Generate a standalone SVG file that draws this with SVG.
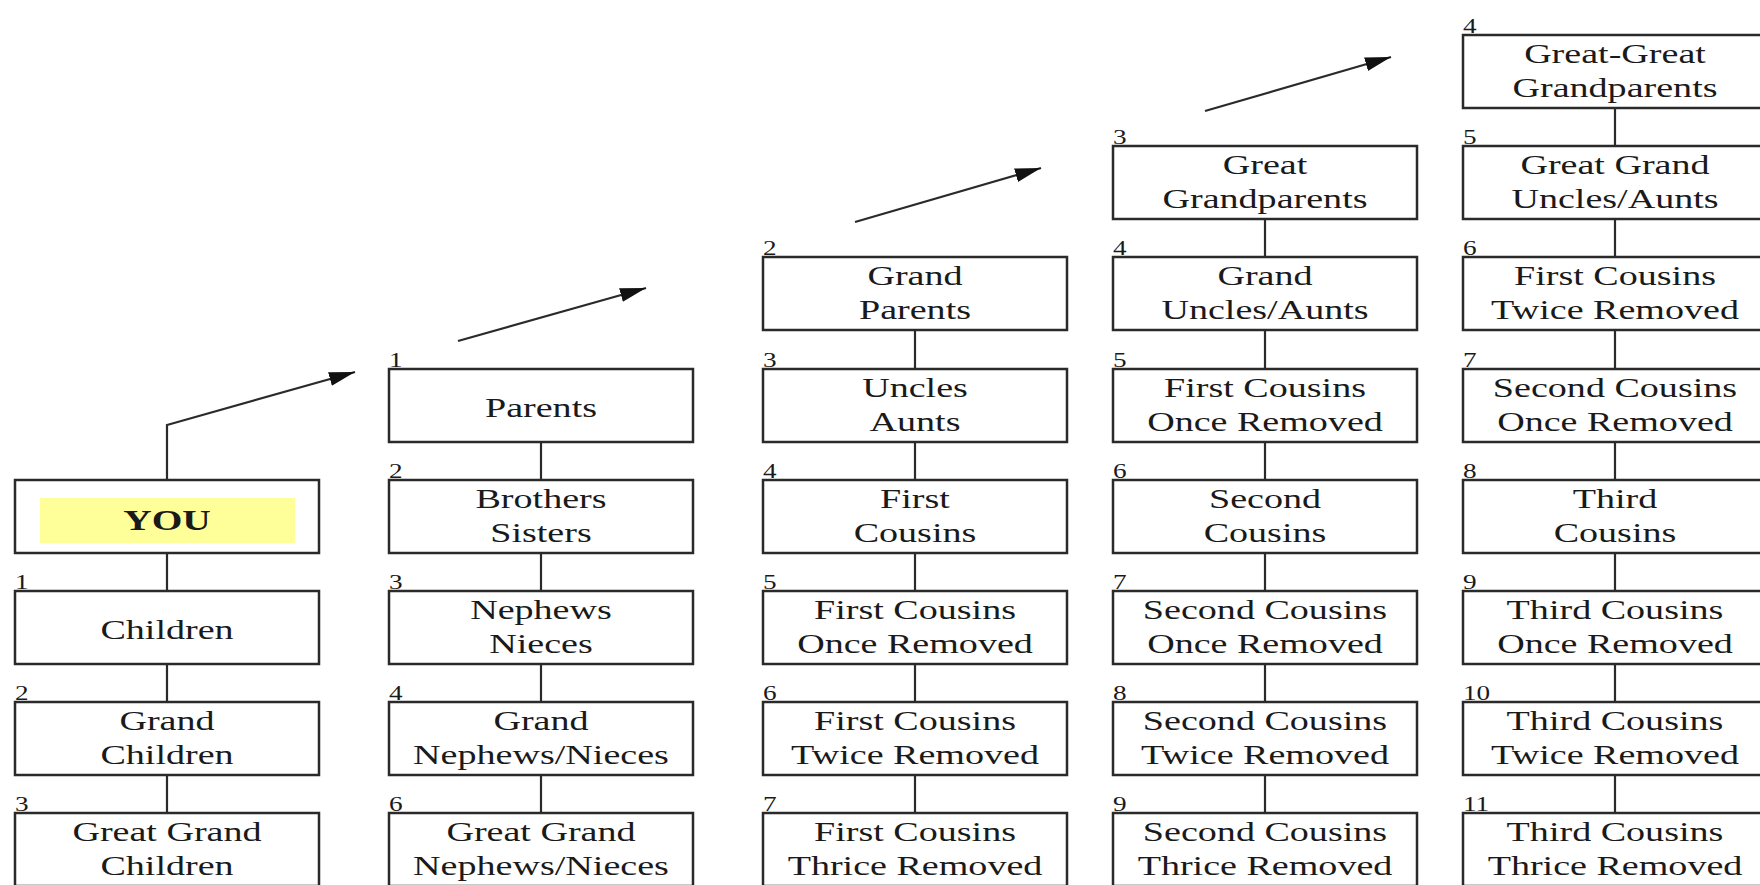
<svg xmlns="http://www.w3.org/2000/svg" width="1760" height="885" viewBox="0 0 1760 885">
<style>
.box{fill:#fff;stroke:#2a2a2a;stroke-width:2.5}
.t{font-family:"Liberation Serif","Times New Roman",serif;font-size:28px;fill:#1a1a1a;text-anchor:middle}
.b{font-weight:bold;font-size:29px}
.n{font-family:"Liberation Serif","Times New Roman",serif;font-size:20px;fill:#1a1a1a;text-anchor:start}
.c{stroke:#2a2a2a;stroke-width:2.2;fill:none}
</style>
<defs>
<marker id="ah" markerUnits="userSpaceOnUse" markerWidth="28" markerHeight="16" refX="26" refY="7" orient="auto">
<path d="M0,0 L26,7 L0,14 z" fill="#111"/>
</marker>
</defs>
<rect width="1760" height="885" fill="#fff"/>

<g id="connectors">
<path class="c" d="M167,480 V425 L355,372" marker-end="url(#ah)"/>
<path class="c" d="M458,341 L646,288" marker-end="url(#ah)"/>
<path class="c" d="M855,222 L1041,168" marker-end="url(#ah)"/>
<path class="c" d="M1205,111 L1391,57" marker-end="url(#ah)"/>
<path class="c" d="M167,553 V591 M167,664 V702 M167,775 V813"/>
<path class="c" d="M541,442 V480 M541,553 V591 M541,664 V702 M541,775 V813"/>
<path class="c" d="M915,330 V369 M915,442 V480 M915,553 V591 M915,664 V702 M915,775 V813"/>
<path class="c" d="M1265,219 V257 M1265,330 V369 M1265,442 V480 M1265,553 V591 M1265,664 V702 M1265,775 V813"/>
<path class="c" d="M1615,108 V146 M1615,219 V257 M1615,330 V369 M1615,442 V480 M1615,553 V591 M1615,664 V702 M1615,775 V813"/>
</g>

<!-- Column 1 -->
<g id="you">
<rect class="box" x="15" y="480" width="304" height="73"/>
<rect x="40" y="498" width="255" height="45" fill="#ffff99"/>
<text class="t b" transform="matrix(1.36 0 0 1 167 530)">YOU</text>
</g>
<g id="children">
<rect class="box" x="15" y="591" width="304" height="73"/>
<text class="n" transform="matrix(1.36 0 0 1 15 589)">1</text>
<text class="t" transform="matrix(1.36 0 0 1 167 639)">Children</text>
</g>
<g id="grandchildren">
<rect class="box" x="15" y="702" width="304" height="73"/>
<text class="n" transform="matrix(1.36 0 0 1 15 700)">2</text>
<text class="t" transform="matrix(1.36 0 0 1 167 730)">Grand</text>
<text class="t" transform="matrix(1.36 0 0 1 167 764)">Children</text>
</g>
<g id="greatgrandchildren">
<rect class="box" x="15" y="813" width="304" height="73"/>
<text class="n" transform="matrix(1.36 0 0 1 15 811)">3</text>
<text class="t" transform="matrix(1.36 0 0 1 167 841)">Great Grand</text>
<text class="t" transform="matrix(1.36 0 0 1 167 875)">Children</text>
</g>

<!-- Column 2 -->
<g id="parents">
<rect class="box" x="389" y="369" width="304" height="73"/>
<text class="n" transform="matrix(1.36 0 0 1 389 367)">1</text>
<text class="t" transform="matrix(1.36 0 0 1 541 417)">Parents</text>
</g>
<g id="siblings">
<rect class="box" x="389" y="480" width="304" height="73"/>
<text class="n" transform="matrix(1.36 0 0 1 389 478)">2</text>
<text class="t" transform="matrix(1.36 0 0 1 541 508)">Brothers</text>
<text class="t" transform="matrix(1.36 0 0 1 541 542)">Sisters</text>
</g>
<g id="nephews">
<rect class="box" x="389" y="591" width="304" height="73"/>
<text class="n" transform="matrix(1.36 0 0 1 389 589)">3</text>
<text class="t" transform="matrix(1.36 0 0 1 541 619)">Nephews</text>
<text class="t" transform="matrix(1.36 0 0 1 541 653)">Nieces</text>
</g>
<g id="grandnephews">
<rect class="box" x="389" y="702" width="304" height="73"/>
<text class="n" transform="matrix(1.36 0 0 1 389 700)">4</text>
<text class="t" transform="matrix(1.36 0 0 1 541 730)">Grand</text>
<text class="t" transform="matrix(1.36 0 0 1 541 764)">Nephews/Nieces</text>
</g>
<g id="greatgrandnephews">
<rect class="box" x="389" y="813" width="304" height="73"/>
<text class="n" transform="matrix(1.36 0 0 1 389 811)">6</text>
<text class="t" transform="matrix(1.36 0 0 1 541 841)">Great Grand</text>
<text class="t" transform="matrix(1.36 0 0 1 541 875)">Nephews/Nieces</text>
</g>

<!-- Column 3 -->
<g id="grandparents">
<rect class="box" x="763" y="257" width="304" height="73"/>
<text class="n" transform="matrix(1.36 0 0 1 763 255)">2</text>
<text class="t" transform="matrix(1.36 0 0 1 915 285)">Grand</text>
<text class="t" transform="matrix(1.36 0 0 1 915 319)">Parents</text>
</g>
<g id="unclesaunts">
<rect class="box" x="763" y="369" width="304" height="73"/>
<text class="n" transform="matrix(1.36 0 0 1 763 367)">3</text>
<text class="t" transform="matrix(1.36 0 0 1 915 397)">Uncles</text>
<text class="t" transform="matrix(1.36 0 0 1 915 431)">Aunts</text>
</g>
<g id="firstcousins">
<rect class="box" x="763" y="480" width="304" height="73"/>
<text class="n" transform="matrix(1.36 0 0 1 763 478)">4</text>
<text class="t" transform="matrix(1.36 0 0 1 915 508)">First</text>
<text class="t" transform="matrix(1.36 0 0 1 915 542)">Cousins</text>
</g>
<g id="fc1r">
<rect class="box" x="763" y="591" width="304" height="73"/>
<text class="n" transform="matrix(1.36 0 0 1 763 589)">5</text>
<text class="t" transform="matrix(1.36 0 0 1 915 619)">First Cousins</text>
<text class="t" transform="matrix(1.36 0 0 1 915 653)">Once Removed</text>
</g>
<g id="fc2r">
<rect class="box" x="763" y="702" width="304" height="73"/>
<text class="n" transform="matrix(1.36 0 0 1 763 700)">6</text>
<text class="t" transform="matrix(1.36 0 0 1 915 730)">First Cousins</text>
<text class="t" transform="matrix(1.36 0 0 1 915 764)">Twice Removed</text>
</g>
<g id="fc3r">
<rect class="box" x="763" y="813" width="304" height="73"/>
<text class="n" transform="matrix(1.36 0 0 1 763 811)">7</text>
<text class="t" transform="matrix(1.36 0 0 1 915 841)">First Cousins</text>
<text class="t" transform="matrix(1.36 0 0 1 915 875)">Thrice Removed</text>
</g>

<!-- Column 4 -->
<g id="greatgrandparents">
<rect class="box" x="1113" y="146" width="304" height="73"/>
<text class="n" transform="matrix(1.36 0 0 1 1113 144)">3</text>
<text class="t" transform="matrix(1.36 0 0 1 1265 174)">Great</text>
<text class="t" transform="matrix(1.36 0 0 1 1265 208)">Grandparents</text>
</g>
<g id="granduncles">
<rect class="box" x="1113" y="257" width="304" height="73"/>
<text class="n" transform="matrix(1.36 0 0 1 1113 255)">4</text>
<text class="t" transform="matrix(1.36 0 0 1 1265 285)">Grand</text>
<text class="t" transform="matrix(1.36 0 0 1 1265 319)">Uncles/Aunts</text>
</g>
<g id="c4fc1r">
<rect class="box" x="1113" y="369" width="304" height="73"/>
<text class="n" transform="matrix(1.36 0 0 1 1113 367)">5</text>
<text class="t" transform="matrix(1.36 0 0 1 1265 397)">First Cousins</text>
<text class="t" transform="matrix(1.36 0 0 1 1265 431)">Once Removed</text>
</g>
<g id="secondcousins">
<rect class="box" x="1113" y="480" width="304" height="73"/>
<text class="n" transform="matrix(1.36 0 0 1 1113 478)">6</text>
<text class="t" transform="matrix(1.36 0 0 1 1265 508)">Second</text>
<text class="t" transform="matrix(1.36 0 0 1 1265 542)">Cousins</text>
</g>
<g id="sc1r">
<rect class="box" x="1113" y="591" width="304" height="73"/>
<text class="n" transform="matrix(1.36 0 0 1 1113 589)">7</text>
<text class="t" transform="matrix(1.36 0 0 1 1265 619)">Second Cousins</text>
<text class="t" transform="matrix(1.36 0 0 1 1265 653)">Once Removed</text>
</g>
<g id="sc2r">
<rect class="box" x="1113" y="702" width="304" height="73"/>
<text class="n" transform="matrix(1.36 0 0 1 1113 700)">8</text>
<text class="t" transform="matrix(1.36 0 0 1 1265 730)">Second Cousins</text>
<text class="t" transform="matrix(1.36 0 0 1 1265 764)">Twice Removed</text>
</g>
<g id="sc3r">
<rect class="box" x="1113" y="813" width="304" height="73"/>
<text class="n" transform="matrix(1.36 0 0 1 1113 811)">9</text>
<text class="t" transform="matrix(1.36 0 0 1 1265 841)">Second Cousins</text>
<text class="t" transform="matrix(1.36 0 0 1 1265 875)">Thrice Removed</text>
</g>

<!-- Column 5 -->
<g id="ggparents">
<rect class="box" x="1463" y="35" width="304" height="73"/>
<text class="n" transform="matrix(1.36 0 0 1 1463 33)">4</text>
<text class="t" transform="matrix(1.36 0 0 1 1615 63)">Great-Great</text>
<text class="t" transform="matrix(1.36 0 0 1 1615 97)">Grandparents</text>
</g>
<g id="ggunclesaunts">
<rect class="box" x="1463" y="146" width="304" height="73"/>
<text class="n" transform="matrix(1.36 0 0 1 1463 144)">5</text>
<text class="t" transform="matrix(1.36 0 0 1 1615 174)">Great Grand</text>
<text class="t" transform="matrix(1.36 0 0 1 1615 208)">Uncles/Aunts</text>
</g>
<g id="c5fc2r">
<rect class="box" x="1463" y="257" width="304" height="73"/>
<text class="n" transform="matrix(1.36 0 0 1 1463 255)">6</text>
<text class="t" transform="matrix(1.36 0 0 1 1615 285)">First Cousins</text>
<text class="t" transform="matrix(1.36 0 0 1 1615 319)">Twice Removed</text>
</g>
<g id="c5sc1r">
<rect class="box" x="1463" y="369" width="304" height="73"/>
<text class="n" transform="matrix(1.36 0 0 1 1463 367)">7</text>
<text class="t" transform="matrix(1.36 0 0 1 1615 397)">Second Cousins</text>
<text class="t" transform="matrix(1.36 0 0 1 1615 431)">Once Removed</text>
</g>
<g id="thirdcousins">
<rect class="box" x="1463" y="480" width="304" height="73"/>
<text class="n" transform="matrix(1.36 0 0 1 1463 478)">8</text>
<text class="t" transform="matrix(1.36 0 0 1 1615 508)">Third</text>
<text class="t" transform="matrix(1.36 0 0 1 1615 542)">Cousins</text>
</g>
<g id="tc1r">
<rect class="box" x="1463" y="591" width="304" height="73"/>
<text class="n" transform="matrix(1.36 0 0 1 1463 589)">9</text>
<text class="t" transform="matrix(1.36 0 0 1 1615 619)">Third Cousins</text>
<text class="t" transform="matrix(1.36 0 0 1 1615 653)">Once Removed</text>
</g>
<g id="tc2r">
<rect class="box" x="1463" y="702" width="304" height="73"/>
<text class="n" transform="matrix(1.36 0 0 1 1463 700)">10</text>
<text class="t" transform="matrix(1.36 0 0 1 1615 730)">Third Cousins</text>
<text class="t" transform="matrix(1.36 0 0 1 1615 764)">Twice Removed</text>
</g>
<g id="tc3r">
<rect class="box" x="1463" y="813" width="304" height="73"/>
<text class="n" transform="matrix(1.36 0 0 1 1463 811)">11</text>
<text class="t" transform="matrix(1.36 0 0 1 1615 841)">Third Cousins</text>
<text class="t" transform="matrix(1.36 0 0 1 1615 875)">Thrice Removed</text>
</g>
</svg>
